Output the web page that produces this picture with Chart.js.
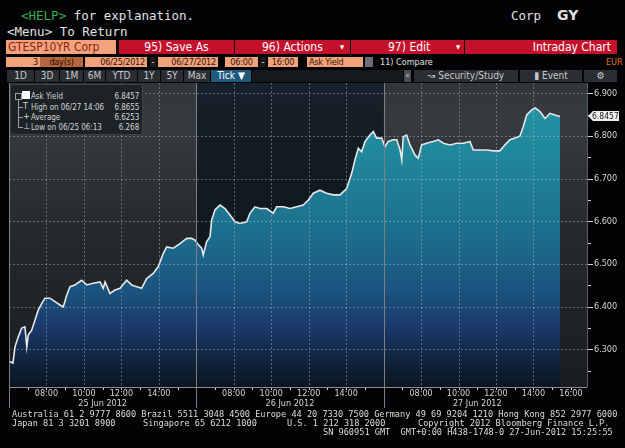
<!DOCTYPE html>
<html lang="en">
<head>
<meta charset="UTF-8">
<title>GTESP10YR Corp Intraday Chart</title>
<script src="https://cdn.jsdelivr.net/npm/chart.js@4.4.1/dist/chart.umd.min.js"></script>
<style>
    body { margin: 0; width: 625px; height: 448px; background: #030306; position: relative; overflow: hidden;
           font-family: 'DejaVu Sans Condensed', sans-serif; color: #e0e0e0; }
    .abs { position: absolute; white-space: nowrap; }
    .mono { font-family: 'DejaVu Sans Mono', monospace; }
    .red { background: #c3112c; color: #fff; font-size: 12px; line-height: 14px; height: 14px; top: 40px; }
    .fld { background: #f0a27a; color: #3a1406; font-size: 9px; line-height: 10px; height: 10px; top: 57px; text-align: center; letter-spacing: -0.2px; }
    .tab { background: #2a2e32; color: #c4c8cc; font-size: 10px; line-height: 12px; height: 12px; top: 70px; text-align: center; }
    #legendBox { left: 10px; top: 84px; width: 131px; height: 49px; background: #1c2226; border: 1px solid #3a4146;
                 border-radius: 3px; font-size: 9px; color: #d6d6d6; }
    #legendBox .row { position: absolute; left: 20px; height: 10px; line-height: 10px; transform: scaleX(0.88); transform-origin: left center; }
    #legendBox .val { position: absolute; right: 3px; height: 10px; line-height: 10px; transform: scaleX(0.88); transform-origin: right center; }
    .foot { font-size: 8.6px; line-height: 9px; color: #dcdcdc; }
</style>
</head>
<body>
    <!-- terminal header -->
    <div class="abs mono" style="left:21px;top:8px;font-size:12.5px;"><span style="color:#2fae4a">&lt;HELP&gt;</span> for explanation.</div>
    <div class="abs mono" style="left:511px;top:8px;font-size:12.5px;">Corp</div>
    <div class="abs" style="left:557px;top:7px;font-size:14px;font-weight:bold;font-family:'DejaVu Sans',sans-serif;">GY</div>
    <div class="abs mono" style="left:7px;top:24px;font-size:12.5px;">&lt;Menu&gt; To Return</div>

    <div class="abs" style="left:6px;top:40px;width:110px;height:14px;line-height:14px;background:#f2a27c;color:#8a2410;font-size:12px;padding-left:2px;box-sizing:border-box;">GTESP10YR Corp</div>
    <div class="abs red" style="left:119px;width:115px;text-align:center;">95) Save As</div>
    <div class="abs red" style="left:235px;width:115px;"><span style="position:absolute;left:27px">96) Actions</span><span style="position:absolute;left:105px;font-size:6px">&#9660;</span></div>
    <div class="abs red" style="left:351px;width:113px;"><span style="position:absolute;left:37px">97) Edit</span><span style="position:absolute;left:105px;font-size:6px">&#9660;</span></div>
    <div class="abs red" style="left:465px;width:152px;text-align:right;padding-right:6px;box-sizing:border-box;">Intraday Chart</div>

    <div class="abs fld" style="left:6px;width:34px;text-align:right;padding-right:2px;box-sizing:border-box;">3</div>
    <div class="abs fld" style="left:40px;width:43px;background:#b8673c;color:#1a0800;">day(s)</div>
    <div class="abs fld" style="left:85px;width:62px;text-align:right;padding-right:2px;box-sizing:border-box;">06/25/2012</div>
    <div class="abs" style="left:150px;top:57px;width:6px;height:10px;line-height:10px;font-size:9px;background:#1a1a1a;text-align:center;">-</div>
    <div class="abs fld" style="left:158px;width:60px;text-align:right;padding-right:2px;box-sizing:border-box;">06/27/2012</div>
    <div class="abs fld" style="left:225px;width:33px;">06:00</div>
    <div class="abs" style="left:260px;top:57px;width:6px;height:10px;line-height:10px;font-size:9px;background:#1a1a1a;text-align:center;">-</div>
    <div class="abs fld" style="left:268px;width:30px;">16:00</div>
    <div class="abs fld" style="left:307px;width:56px;text-align:left;padding-left:2px;box-sizing:border-box;">Ask Yield</div>
    <div class="abs" style="left:365px;top:57px;width:8px;height:10px;background:#6a6e72;"></div>
    <div class="abs" style="left:380px;top:57px;font-size:9px;line-height:10px;color:#e0e0e0;">11) Compare</div>
    <div class="abs" style="left:606px;top:57px;font-size:9px;line-height:10px;color:#e07020;">EUR</div>

    <div class="abs tab" style="left:7px;width:27px;">1D</div>
    <div class="abs tab" style="left:35px;width:24px;">3D</div>
    <div class="abs tab" style="left:60px;width:23px;">1M</div>
    <div class="abs tab" style="left:84px;width:21px;">6M</div>
    <div class="abs tab" style="left:106px;width:31px;">YTD</div>
    <div class="abs tab" style="left:138px;width:22px;">1Y</div>
    <div class="abs tab" style="left:161px;width:22px;">5Y</div>
    <div class="abs tab" style="left:184px;width:26px;">Max</div>
    <div class="abs tab" style="left:211px;width:40px;background:#1f5a7e;color:#fff;">Tick &#9660;</div>
    <div class="abs tab" style="left:252px;width:151px;background:#16191c;"></div>
    <div class="abs tab" style="left:404px;width:7px;background:#4a4e52;font-size:8px;">&laquo;</div>
    <div class="abs tab" style="left:414px;width:104px;">&#8605; Security/Study</div>
    <div class="abs tab" style="left:520px;width:62px;">&#9646; Event</div>
    <div class="abs tab" style="left:584px;width:33px;">&#9881;</div>

    <canvas id="yieldChart" width="625" height="330" style="position:absolute;left:0;top:83px;"></canvas>

    <div id="legendBox" class="abs">
        <div class="abs" style="left:4px;top:8px;width:5px;height:5px;border:1px solid #9aa0a4;"></div>
        <div class="abs" style="left:7px;top:15px;width:1px;height:28px;background:#9aa0a4;"></div>
        <div class="abs" style="left:11px;top:6px;width:8px;height:8px;background:#fff;"></div>
        <div class="row" style="top:6px;">Ask Yield</div><div class="val" style="top:6px;">6.8457</div>
        <div class="abs" style="left:8px;top:22px;width:4px;height:1px;background:#9aa0a4;"></div>
        <div class="abs" style="left:12px;top:16px;font-size:9px;line-height:10px;">T</div>
        <div class="row" style="top:17px;">High on 06/27 14:06</div><div class="val" style="top:17px;">6.8655</div>
        <div class="abs" style="left:8px;top:32px;width:4px;height:1px;background:#9aa0a4;"></div>
        <div class="abs" style="left:12px;top:26px;font-size:9px;line-height:10px;">+</div>
        <div class="row" style="top:27px;">Average</div><div class="val" style="top:27px;">6.6253</div>
        <div class="abs" style="left:8px;top:42px;width:4px;height:1px;background:#9aa0a4;"></div>
        <div class="abs" style="left:12px;top:36px;font-size:9px;line-height:10px;">&#8869;</div>
        <div class="row" style="top:37px;">Low on 06/25 06:13</div><div class="val" style="top:37px;">6.268</div>
    </div>

    <!-- footer -->
    <div class="abs mono foot" style="left:12px;top:410px;">Australia 61 2 9777 8600 Brazil 5511 3048 4500 Europe 44 20 7330 7500 Germany 49 69 9204 1210 Hong Kong 852 2977 6000</div>
    <div class="abs mono foot" style="left:12px;top:419px;">Japan 81 3 3201 8900</div>
    <div class="abs mono foot" style="left:143px;top:419px;">Singapore 65 6212 1000</div>
    <div class="abs mono foot" style="left:287px;top:419px;">U.S. 1 212 318 2000</div>
    <div class="abs mono foot" style="left:418px;top:419px;">Copyright 2012 Bloomberg Finance L.P.</div>
    <div class="abs mono foot" style="left:323px;top:428px;">SN 960951 GMT&nbsp; GMT+0:00 H438-1748-0 27-Jun-2012 15:25:55</div>

    <script>
        // hours counted from 06:00 on 25 Jun, 10 trading hours per day (06:00-16:00)
        const day1Hours = [0.05, 0.21, 0.32, 0.50, 0.68, 0.85, 0.95, 1.03, 1.21, 1.39, 1.56, 1.75, 1.92, 2.19, 2.46, 2.72, 2.90, 3.08, 3.26, 3.52,
            3.88, 4.15, 4.50, 4.86, 5.03, 5.13, 5.39, 5.66, 5.93, 6.28, 6.55, 6.82, 7.08, 7.35, 7.70, 7.97, 8.24, 8.42, 8.77, 9.13, 9.49, 9.75, 9.93];
        const day1Yield = [6.271, 6.268, 6.306, 6.330, 6.350, 6.353, 6.306, 6.334, 6.345, 6.369, 6.392, 6.408, 6.420, 6.420, 6.412, 6.404, 6.400, 6.427, 6.447, 6.451,
            6.462, 6.451, 6.455, 6.458, 6.443, 6.458, 6.431, 6.439, 6.443, 6.462, 6.451, 6.447, 6.443, 6.466, 6.478, 6.494, 6.525, 6.540, 6.537, 6.548, 6.560, 6.560, 6.556];

        const day2Hours = [10.11, 10.29, 10.37, 10.55, 10.73, 10.82, 11.00, 11.27, 11.53, 11.80, 12.07, 12.33, 12.69, 12.87, 13.13, 13.40, 13.76, 14.11, 14.29, 14.65,
            15.00, 15.36, 15.71, 15.98, 16.25, 16.60, 16.96, 17.31, 17.67, 18.03, 18.30, 18.47, 18.65, 18.83, 19.01, 19.27, 19.45, 19.63, 19.90];
        const day2Yield = [6.545, 6.537, 6.521, 6.552, 6.564, 6.603, 6.627, 6.638, 6.630, 6.615, 6.599, 6.595, 6.599, 6.619, 6.634, 6.630, 6.630, 6.619, 6.634, 6.634,
            6.630, 6.634, 6.638, 6.650, 6.666, 6.673, 6.666, 6.662, 6.662, 6.677, 6.713, 6.744, 6.771, 6.763, 6.787, 6.802, 6.810, 6.795, 6.795];

        const day3Hours = [20.07, 20.25, 20.52, 20.70, 20.88, 20.97, 21.05, 21.23, 21.41, 21.68, 21.85, 22.03, 22.30, 22.65, 22.92, 23.19, 23.55, 23.90, 24.26, 24.61,
            24.79, 25.15, 25.50, 25.86, 26.21, 26.48, 26.75, 27.02, 27.28, 27.46, 27.64, 27.91, 28.10, 28.35, 28.62, 28.88, 29.15, 29.42];
        const day3Yield = [6.775, 6.787, 6.791, 6.791, 6.767, 6.744, 6.798, 6.802, 6.779, 6.755, 6.748, 6.779, 6.783, 6.787, 6.791, 6.783, 6.779, 6.783, 6.783, 6.787,
            6.767, 6.767, 6.767, 6.765, 6.765, 6.779, 6.791, 6.795, 6.800, 6.822, 6.849, 6.861, 6.8655, 6.857, 6.841, 6.853, 6.849, 6.8457];

        const dayLabels = ['25 Jun 2012', '26 Jun 2012', '27 Jun 2012'];
        const dayMiddles = [5, 15, 25];
        const dayBounds = [0, 10, 20];
        const hourMarks = [1, 2, 3, 4, 5, 6, 7, 8, 9, 10, 11, 12, 13, 14, 15, 16, 17, 18, 19, 20, 21, 22, 23, 24, 25, 26, 27, 28, 29, 30];
        const gridHours = [2, 4, 6, 8, 12, 14, 16, 18, 22, 24, 26, 28];
        const timeLabels = { 2: '08:00', 4: '10:00', 6: '12:00', 8: '14:00', 10: '16:00' };
        const yTicks = [6.25, 6.30, 6.35, 6.40, 6.45, 6.50, 6.55, 6.60, 6.65, 6.70, 6.75, 6.80, 6.85, 6.90];
        const yGrid = [6.30, 6.40, 6.50, 6.60, 6.70, 6.80, 6.90];

        const allHours = day1Hours.concat(day2Hours, day3Hours);
        const allYield = day1Yield.concat(day2Yield, day3Yield);
        const points = allHours.map((h, i) => ({ x: h, y: allYield[i] }));
        const lastYield = day3Yield[day3Yield.length - 1];

        const gridCol = 'rgba(200,206,212,0.4)';
        const tickFont = { family: "'DejaVu Sans Condensed', sans-serif", size: 9, lineHeight: 1.1 };

        const isMajorY = (v) => Math.round(v * 100) % 10 === 0;

        // keep Chart.js from reserving room for half labels, so the plot fills the frame
        const noPad = (s) => { s.paddingTop = 0; s.paddingBottom = 0; s.paddingLeft = 0; s.paddingRight = 0; };

        function line(ctx, x1, y1, x2, y2) {
            ctx.beginPath();
            ctx.moveTo(x1, y1);
            ctx.lineTo(x2, y2);
            ctx.stroke();
        }

        const backdrop = {
            id: 'backdrop',
            beforeDraw(chart) {
                const { ctx, chartArea: a, scales: { x } } = chart;
                const edges = [x.getPixelForValue(0), x.getPixelForValue(10), x.getPixelForValue(20), a.right];
                ctx.save();
                for (let d = 0; d < 3; d++) {
                    const g = ctx.createLinearGradient(0, a.top, 0, a.bottom);
                    if (d === 1) {
                        g.addColorStop(0, '#16212b');
                        g.addColorStop(0.35, '#121a20');
                        g.addColorStop(1, '#0a0f14');
                    } else {
                        g.addColorStop(0, '#30363b');
                        g.addColorStop(0.12, '#363b3f');
                        g.addColorStop(0.5, '#26292c');
                        g.addColorStop(1, '#1a1d20');
                    }
                    ctx.fillStyle = g;
                    ctx.fillRect(edges[d], a.top, edges[d + 1] - edges[d], a.bottom - a.top);
                }
                ctx.restore();
            },
            afterDraw(chart) {
                const { ctx, chartArea: a, scales: { x, y } } = chart;
                ctx.save();
                ctx.lineWidth = 1;
                // dashed grid over the area
                ctx.strokeStyle = gridCol;
                ctx.setLineDash([2, 2]);
                gridHours.forEach(h => {
                    const px = Math.round(x.getPixelForValue(h)) + 0.5;
                    line(ctx, px, a.top, px, a.bottom);
                });
                yGrid.forEach(v => {
                    const py = Math.round(y.getPixelForValue(v)) + 0.5;
                    line(ctx, a.left, py, a.right, py);
                });
                ctx.setLineDash([]);
                // axis lines and tick marks
                ctx.strokeStyle = '#8a8e92';
                const bottom = Math.round(a.bottom) + 0.5;
                line(ctx, a.left, bottom, a.right, bottom);
                const right = Math.round(a.right) + 0.5;
                ctx.strokeStyle = '#5a5e62';
                line(ctx, right, a.top, right, a.bottom);
                ctx.strokeStyle = '#d0d4d8';
                hourMarks.forEach(h => {
                    const px = Math.round(x.getPixelForValue(h)) + 0.5;
                    line(ctx, px, a.bottom + 1, px, a.bottom + 3);
                });
                yTicks.forEach(v => {
                    const py = Math.round(y.getPixelForValue(v)) + 0.5;
                    line(ctx, a.right + 1, py, a.right + (isMajorY(v) ? 6 : 4), py);
                });
                // day separators
                ctx.strokeStyle = '#7c8085';
                dayBounds.forEach(b => {
                    const px = Math.round(x.getPixelForValue(b)) + 0.5;
                    line(ctx, px, a.top, px, a.bottom + 21);
                });
                // last value tag
                const py = Math.round(y.getPixelForValue(lastYield));
                const l = a.right + 1;
                ctx.fillStyle = '#eef0f0';
                ctx.beginPath();
                ctx.moveTo(l, py);
                ctx.lineTo(l + 5, py - 5);
                ctx.lineTo(l + 31, py - 5);
                ctx.lineTo(l + 31, py + 5);
                ctx.lineTo(l + 5, py + 5);
                ctx.closePath();
                ctx.fill();
                ctx.fillStyle = '#111418';
                ctx.font = "8.5px 'DejaVu Sans Condensed', sans-serif";
                ctx.textBaseline = 'middle';
                ctx.fillText(lastYield.toFixed(4), l + 4, py + 0.5);
                ctx.restore();
            }
        };

        new Chart(document.getElementById('yieldChart'), {
            type: 'line',
            data: {
                datasets: [{
                    label: 'Ask Yield',
                    data: points,
                    borderColor: '#e4e8ea',
                    borderWidth: 1.6,
                    pointRadius: 0,
                    tension: 0,
                    fill: 'start',
                    backgroundColor: (c) => {
                        const a = c.chart.chartArea;
                        if (!a) return 'rgba(0,0,0,0)';
                        const g = c.chart.ctx.createLinearGradient(0, a.top, 0, a.bottom);
                        g.addColorStop(0, '#2699a6');
                        g.addColorStop(0.25, '#20869a');
                        g.addColorStop(0.5, '#1c6e8c');
                        g.addColorStop(0.68, '#1a5480');
                        g.addColorStop(0.8, '#1a3a6c');
                        g.addColorStop(0.9, '#112640');
                        g.addColorStop(1, '#0a1520');
                        return g;
                    }
                }]
            },
            options: {
                responsive: false,
                animation: false,
                layout: { padding: { left: 9, top: 0, right: 0, bottom: 0 } },
                plugins: { legend: { display: false }, tooltip: { enabled: false } },
                scales: {
                    x: {
                        type: 'linear',
                        position: 'bottom',
                        weight: 1,
                        min: 0,
                        max: 30.86,
                        afterBuildTicks: (s) => { s.ticks = hourMarks.map(v => ({ value: v })); },
                        afterFit: (s) => { s.height = 12; noPad(s); },
                        grid: { display: false, drawTicks: false },
                        border: { display: false },
                        ticks: {
                            color: '#d4d4d4',
                            font: tickFont,
                            padding: 2,
                            maxRotation: 0,
                            autoSkip: false,
                            callback: (v) => {
                                const inDay = v % 10;
                                if (inDay === 0 && v === 30) return timeLabels[10];
                                return timeLabels[inDay] || '';
                            }
                        }
                    },
                    xDate: {
                        type: 'linear',
                        position: 'bottom',
                        weight: 2,
                        min: 0,
                        max: 30.86,
                        afterBuildTicks: (s) => { s.ticks = dayMiddles.map(v => ({ value: v })); },
                        afterFit: (s) => { s.height = 14; noPad(s); },
                        grid: { display: false, drawTicks: false },
                        border: { display: false },
                        ticks: {
                            color: '#d4d4d4',
                            font: tickFont,
                            padding: 0,
                            maxRotation: 0,
                            autoSkip: false,
                            callback: (v) => dayLabels[dayMiddles.indexOf(v)]
                        }
                    },
                    y: {
                        position: 'right',
                        min: 6.212,
                        max: 6.924,
                        afterBuildTicks: (s) => { s.ticks = yTicks.map(v => ({ value: v })); },
                        afterFit: (s) => { s.width = 38; noPad(s); },
                        grid: { display: false, drawTicks: false },
                        border: { display: false },
                        ticks: {
                            color: '#d4d4d4',
                            font: tickFont,
                            padding: 7,
                            callback: (v) => isMajorY(v) ? v.toFixed(3) : ''
                        }
                    }
                }
            },
            plugins: [backdrop]
        });
    </script>
</body>
</html>
